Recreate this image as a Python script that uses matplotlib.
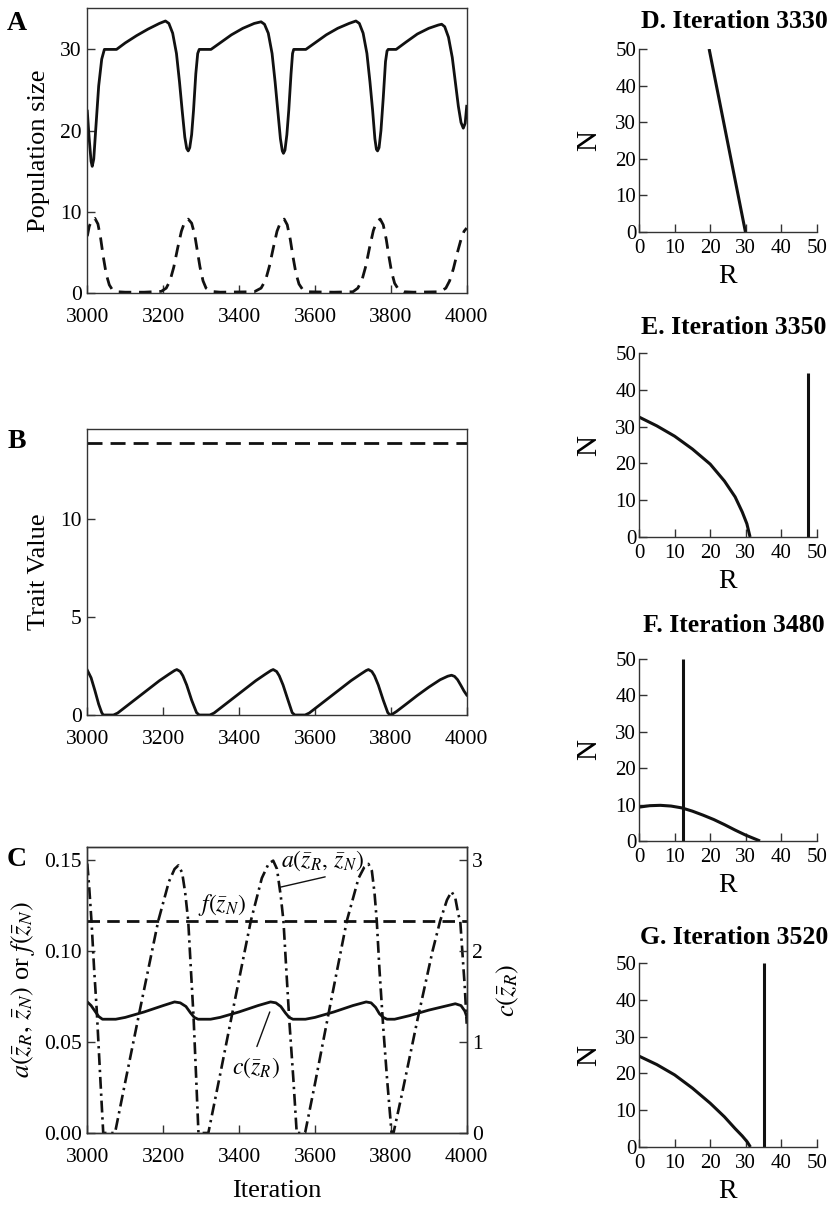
import matplotlib
matplotlib.use("Agg")
import matplotlib.pyplot as plt

plt.rcParams['font.family'] = ['Liberation Serif', 'DejaVu Serif']
plt.rcParams['mathtext.fontset'] = 'stix'

# ---------------- data ----------------
# Panel A: population sizes
A_R_iter = [3000, 3005, 3010, 3013, 3017, 3022, 3030, 3038, 3045, 3077, 3100, 3130, 3160, 3190, 3206,
            3215, 3225, 3235, 3243, 3250, 3257, 3262, 3266, 3270, 3275, 3280, 3286, 3291, 3295, 3326,
            3350, 3380, 3410, 3440, 3458, 3467, 3477, 3487, 3495, 3502, 3509, 3514, 3517, 3521, 3526,
            3531, 3537, 3541, 3544, 3576, 3600, 3630, 3660, 3690, 3708, 3717, 3727, 3737, 3745, 3752,
            3758, 3762, 3765, 3769, 3774, 3780, 3786, 3790, 3793, 3814, 3840, 3870, 3900, 3925, 3934,
            3942, 3952, 3962, 3970, 3978, 3985, 3991, 3996, 4000]
A_R_val = [22.4, 19.0, 16.2, 15.6, 16.5, 20.0, 25.5, 28.8, 30.0, 30.0, 30.8, 31.7, 32.5, 33.2, 33.5,
           33.2, 32.0, 29.5, 26.0, 22.5, 19.2, 17.8, 17.5, 17.9, 19.5, 22.5, 27.0, 29.5, 30.0, 30.0,
           30.8, 31.8, 32.6, 33.2, 33.4, 33.1, 32.0, 29.5, 26.0, 22.5, 19.0, 17.5, 17.2, 17.6, 19.5,
           22.5, 27.0, 29.5, 30.0, 30.0, 30.8, 31.8, 32.6, 33.2, 33.5, 33.2, 32.0, 29.5, 26.0, 22.5,
           19.0, 17.7, 17.5, 17.9, 20.0, 24.0, 28.5, 29.8, 30.0, 30.0, 30.9, 31.9, 32.6, 33.0, 33.1,
           32.8, 31.5, 29.0, 26.0, 23.0, 21.0, 20.3, 20.9, 23.0]

A_N_iter = [3000, 3005, 3012, 3020, 3028, 3035, 3042, 3050, 3058, 3066, 3080, 3100, 3150, 3195,
            3208, 3218, 3228, 3238, 3248, 3257, 3266, 3275, 3283, 3290, 3297, 3305, 3313, 3325,
            3350, 3440, 3458, 3470, 3480, 3490, 3500, 3510, 3519, 3527, 3535, 3542, 3550, 3558,
            3568, 3580, 3650, 3700, 3713, 3724, 3734, 3744, 3754, 3763, 3772, 3780, 3788, 3795,
            3802, 3810, 3820, 3835, 3860, 3930, 3945, 3955, 3965, 3975, 3985, 3993, 4000]
A_N_val = [7.0, 8.2, 9.0, 9.2, 8.5, 6.8, 4.5, 2.3, 1.0, 0.4, 0.15, 0.1, 0.1, 0.2,
           0.6, 1.5, 3.2, 5.5, 7.6, 8.8, 9.1, 8.6, 7.2, 5.2, 3.2, 1.5, 0.6, 0.2,
           0.1, 0.15, 0.6, 1.6, 3.3, 5.5, 7.6, 8.8, 9.1, 8.4, 6.6, 4.5, 2.4, 1.1,
           0.4, 0.15, 0.1, 0.15, 0.6, 1.6, 3.3, 5.6, 7.7, 8.8, 9.1, 8.4, 6.6, 4.5,
           2.6, 1.2, 0.45, 0.15, 0.1, 0.15, 0.6, 1.5, 3.0, 4.9, 6.6, 7.6, 8.0]

# Panel B: trait values
B_iter = [3000, 3010, 3020, 3030, 3038, 3042, 3069, 3080, 3100, 3130, 3160, 3190, 3215, 3230, 3236,
          3245, 3252, 3262, 3275, 3288, 3295, 3323, 3334, 3354, 3384, 3414, 3444, 3469, 3484, 3490,
          3499, 3506, 3516, 3529, 3540, 3547, 3574, 3585, 3605, 3635, 3665, 3695, 3720, 3735, 3741,
          3750, 3757, 3767, 3780, 3792, 3798, 3803, 3815, 3840, 3870, 3900, 3930, 3950, 3960, 3968,
          3976, 3985, 3993, 4000]
B_zR = [2.29, 1.9, 1.25, 0.55, 0.12, 0.0, 0.0, 0.1, 0.4, 0.85, 1.3, 1.75, 2.08, 2.27, 2.32,
        2.22, 2.0, 1.53, 0.76, 0.12, 0.0, 0.0, 0.1, 0.4, 0.85, 1.3, 1.75, 2.08, 2.27, 2.32,
        2.22, 2.0, 1.53, 0.76, 0.12, 0.0, 0.0, 0.1, 0.4, 0.85, 1.3, 1.75, 2.08, 2.27, 2.32,
        2.22, 2.0, 1.53, 0.76, 0.12, 0.0, 0.03, 0.18, 0.55, 1.0, 1.42, 1.8, 1.98, 2.03, 1.97,
        1.8, 1.5, 1.22, 1.02]
B_zN_iter = [3000, 4000]
B_zN = [13.9, 13.9]

# Panel C
C_a_iter = [3000, 3005, 3011, 3018, 3025, 3033, 3042, 3073, 3100, 3140, 3187, 3215, 3230, 3240,
            3250, 3258, 3266, 3273, 3280, 3287, 3293, 3319, 3350, 3389, 3431, 3460, 3478, 3490,
            3500, 3510, 3517, 3525, 3533, 3543, 3552, 3574, 3600, 3640, 3684, 3715, 3730, 3741,
            3750, 3757, 3763, 3770, 3780, 3790, 3802, 3807, 3830, 3870, 3910, 3930, 3948, 3960,
            3970, 3978, 3983, 3990, 3995, 4000]
C_a = [0.148, 0.135, 0.1165, 0.09, 0.067, 0.035, 0.0, 0.0, 0.028, 0.069, 0.1165, 0.138, 0.145, 0.147,
       0.143, 0.132, 0.1165, 0.090, 0.064, 0.030, 0.0, 0.0, 0.032, 0.073, 0.1165, 0.140, 0.148, 0.1496,
       0.145, 0.130, 0.1165, 0.088, 0.06, 0.03, 0.0, 0.0, 0.027, 0.07, 0.1165, 0.140, 0.146, 0.1478,
       0.144, 0.132, 0.1165, 0.09, 0.058, 0.03, 0.0, 0.0, 0.022, 0.062, 0.100, 0.1165, 0.128, 0.1326,
       0.129, 0.12, 0.1165, 0.095, 0.08, 0.06]
C_f_iter = [3000, 4000]
C_f = [0.1165, 0.1165]
C_c_iter = [3000, 3010, 3020, 3030, 3040, 3075, 3100, 3150, 3200, 3230, 3245, 3260, 3272, 3282, 3292,
            3325, 3350, 3400, 3450, 3483, 3497, 3510, 3522, 3532, 3542, 3575, 3600, 3650, 3700, 3735,
            3748, 3760, 3770, 3780, 3790, 3810, 3850, 3900, 3950, 3970, 3985, 3995, 4000]
C_c = [1.44, 1.40, 1.34, 1.28, 1.25, 1.25, 1.27, 1.33, 1.40, 1.44, 1.43, 1.39, 1.32, 1.27, 1.25,
       1.25, 1.27, 1.33, 1.40, 1.44, 1.43, 1.39, 1.32, 1.27, 1.25, 1.25, 1.27, 1.33, 1.40, 1.44,
       1.43, 1.38, 1.31, 1.27, 1.25, 1.25, 1.29, 1.35, 1.40, 1.42, 1.40, 1.34, 1.28]

# Panels D-G: isoclines
D_R = [19.7, 29.9]
D_N = [50, 0]
E_R = [0, 5, 10, 15, 20, 24, 27, 29, 30.3, 31.2]
E_N = [32.6, 30.2, 27.4, 23.9, 19.8, 15.2, 10.9, 6.8, 3.6, 0]
E_vR = [47.5, 47.5]
E_vN = [0, 44.5]
F_R = [0, 3, 6, 9, 12, 15, 18, 21, 24, 27, 30, 32, 34]
F_N = [9.3, 9.7, 9.8, 9.6, 9.1, 8.2, 7.1, 5.9, 4.5, 3.0, 1.6, 0.8, 0]
F_vR = [12.3, 12.3]
F_vN = [0, 50]
G_R = [0, 5, 10, 15, 20, 24, 27, 29, 30.4, 31.3]
G_N = [24.7, 22.4, 19.6, 16.0, 11.9, 8.2, 5.0, 3.0, 1.4, 0]
G_vR = [35.0, 35.0]
G_vN = [0, 50]

x_ticks = [3000, 3200, 3400, 3600, 3800, 4000]
iso_ticks = [0, 10, 20, 30, 40, 50]
titles = ["D. Iteration 3330", "E. Iteration 3350", "F. Iteration 3480", "G. Iteration 3520"]

# ---------------- figure ----------------
W, H = 835, 1205
fig = plt.figure(figsize=(W / 100, H / 100), dpi=100)
LC = '#111111'
SC = '#333333'

def rect(l, t, r, b):
    return [l / W, 1 - b / H, (r - l) / W, (b - t) / H]

def style(ax, size=15.5):
    for s in ax.spines.values():
        s.set_color(SC)
        s.set_linewidth(1.0)
    ax.tick_params(direction='in', length=6, width=1, color=SC, labelsize=size,
                   top=False, right=False)

xl, xr = 87.3, 466.7
axA = fig.add_axes(rect(xl, 8, xr, 293))
axB = fig.add_axes(rect(xl, 429, xr, 715))
axC = fig.add_axes(rect(xl, 847, xr, 1133))

# A
style(axA)
axA.plot(A_R_iter, A_R_val, color=LC, lw=2.0, solid_joinstyle='round')
axA.plot(A_N_iter, A_N_val, color=LC, lw=2.0, dashes=(4.5, 2.8))
axA.set_xlim(3000, 4000)
axA.set_ylim(0, 35.1)
axA.set_yticks([0, 10, 20, 30])
axA.set_xticks(x_ticks)
axA.tick_params(axis='x', pad=10.5)
axA.tick_params(axis='y', pad=4)
axA.set_ylabel('Population size', fontsize=19)
axA.yaxis.set_label_coords(-0.098, 0.5)

# B
style(axB)
axB.plot(B_iter, B_zR, color=LC, lw=2.0, solid_joinstyle='round')
axB.plot(B_zN_iter, B_zN, color=LC, lw=2.0, dashes=(5.4, 2.9))
axB.set_xlim(3000, 4000)
axB.set_ylim(0, 14.6)
axB.set_yticks([0, 5, 10])
axB.set_xticks(x_ticks)
axB.tick_params(axis='x', pad=10.5)
axB.tick_params(axis='y', pad=4)
axB.set_ylabel('Trait Value', fontsize=19)
axB.yaxis.set_label_coords(-0.098, 0.5)

# C
style(axC)
axC.plot(C_a_iter, C_a, color=LC, lw=1.9, dashes=(4.5, 1.8, 0.9, 1.8))
axC.plot(C_f_iter, C_f, color=LC, lw=2.0, dashes=(4.5, 2.6))
axC.set_xlim(3000, 4000)
axC.set_ylim(0, 0.1571)
axC.set_yticks([0.0, 0.05, 0.10, 0.15])
axC.set_yticklabels(['0.00', '0.05', '0.10', '0.15'])
axC.set_xticks(x_ticks)
axC.tick_params(axis='x', pad=10.5)
axC.tick_params(axis='y', pad=4)
axC.set_xlabel('Iteration', fontsize=19)
axC.xaxis.set_label_coords(0.5, -0.165)
axC.set_ylabel(r'$a(\bar{z}_R,\,\bar{z}_N)$ or $f(\bar{z}_N)$', fontsize=19)
axC.yaxis.set_label_coords(-0.133, 0.5)

axC2 = axC.twinx()
for s in axC2.spines.values():
    s.set_color(SC)
    s.set_linewidth(1.0)
axC2.tick_params(direction='in', length=6, width=1, color=SC, labelsize=15.5, pad=4)
axC2.plot(C_c_iter, C_c, color=LC, lw=2.0, solid_joinstyle='round')
axC2.set_ylim(0, 3.142)
axC2.set_yticks([0, 1, 2, 3])
axC2.set_ylabel(r'$c(\bar{z}_R)$', fontsize=19)
axC2.yaxis.set_label_coords(1.075, 0.5)

axC.text(3620, 0.1495, r'$a(\bar{z}_R,\,\bar{z}_N)$', fontsize=17, ha='center', va='center')
axC.annotate('', xy=(3508, 0.135), xytext=(3627, 0.1407),
             arrowprops=dict(arrowstyle='-', lw=1.0, color=LC, shrinkA=0, shrinkB=0))
axC.text(3356, 0.1255, r'$f(\bar{z}_N)$', fontsize=17, ha='center', va='center')
axC2.text(3444, 0.72, r'$c(\bar{z}_R)$', fontsize=17, ha='center', va='center')
axC2.annotate('', xy=(3481, 1.33), xytext=(3447, 0.95),
              arrowprops=dict(arrowstyle='-', lw=1.0, color=LC, shrinkA=0, shrinkB=0))

# panel letters
for lab, yy in [('A', 23), ('B', 441), ('C', 860)]:
    fig.text(17 / W, 1 - yy / H, lab, fontsize=20, fontweight='bold', ha='center', va='center')

# D-G
rl, rr = 639, 817
iso_boxes = [(49, 232), (353, 537), (659, 841), (963, 1147)]
title_y = [22, 328, 625, 937]
iso_data = [
    [(D_R, D_N)],
    [(E_R, E_N), (E_vR, E_vN)],
    [(F_R, F_N), (F_vR, F_vN)],
    [(G_R, G_N), (G_vR, G_vN)],
]
for (t, b), ty, title, lines in zip(iso_boxes, title_y, titles, iso_data):
    ax = fig.add_axes(rect(rl, t, rr, b))
    style(ax, size=15)
    ax.spines['top'].set_visible(False)
    ax.spines['right'].set_visible(False)
    for xs, ys in lines:
        ax.plot(xs, ys, color=LC, lw=2.2, solid_capstyle='butt', solid_joinstyle='round')
    ax.set_xlim(0, 50)
    ax.set_ylim(0, 50)
    ax.set_xticks(iso_ticks)
    ax.set_yticks(iso_ticks)
    ax.tick_params(axis='x', pad=5)
    ax.tick_params(axis='y', pad=2)
    ax.set_xlabel('R', fontsize=20)
    ax.xaxis.set_label_coords(0.5, -0.175)
    ax.set_ylabel('N', fontsize=21)
    ax.yaxis.set_label_coords(-0.205, 0.5)
    fig.text(734 / W, 1 - ty / H, title, fontsize=18.5, fontweight='bold', ha='center', va='center')

fig.savefig('out.png', dpi=100)
